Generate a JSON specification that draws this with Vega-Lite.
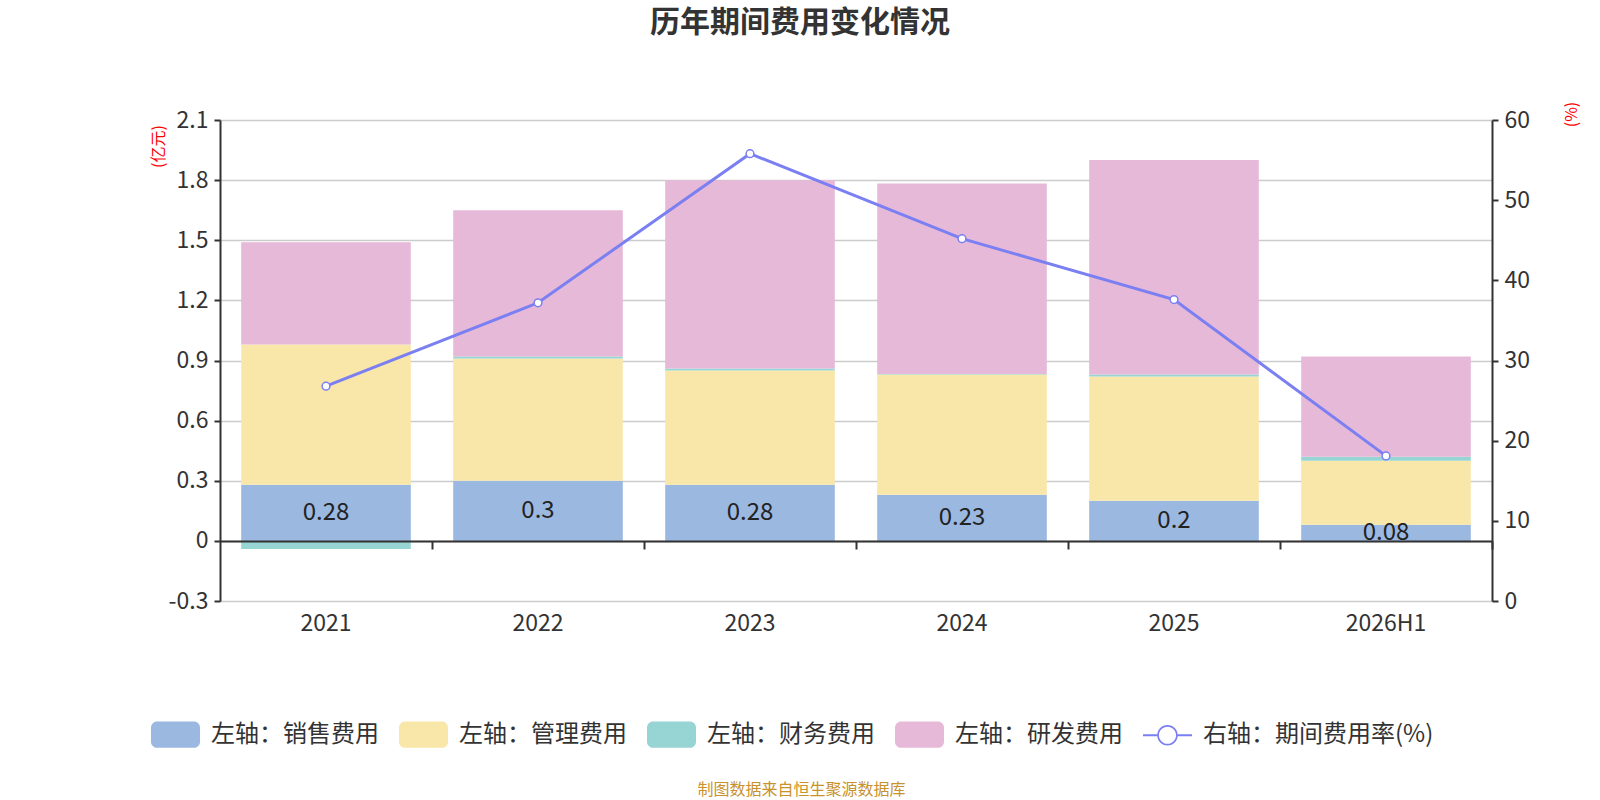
{
  "$schema": "https://vega.github.io/schema/vega-lite/v6.json",
  "autosize": {"type": "none"},
  "padding": {"left": 220, "top": 120, "right": 108, "bottom": 199},
  "width": 1272,
  "height": 481,
  "background": "white",
  "config": {
    "font": "Noto Sans CJK SC",
    "view": {"stroke": null}
  },
  "title": {
    "text": "历年期间费用变化情况",
    "fontSize": 30,
    "fontWeight": "bold",
    "color": "#333333",
    "anchor": "middle",
    "dx": -56,
    "offset": 63
  },
  "datasets": {
    "costs": [
      {"year": "2021", "type": "左轴：销售费用", "value": 0.28},
      {"year": "2021", "type": "左轴：管理费用", "value": 0.70},
      {"year": "2021", "type": "左轴：财务费用", "value": -0.04},
      {"year": "2021", "type": "左轴：研发费用", "value": 0.51},
      {"year": "2022", "type": "左轴：销售费用", "value": 0.3},
      {"year": "2022", "type": "左轴：管理费用", "value": 0.61},
      {"year": "2022", "type": "左轴：财务费用", "value": 0.01},
      {"year": "2022", "type": "左轴：研发费用", "value": 0.73},
      {"year": "2023", "type": "左轴：销售费用", "value": 0.28},
      {"year": "2023", "type": "左轴：管理费用", "value": 0.57},
      {"year": "2023", "type": "左轴：财务费用", "value": 0.01},
      {"year": "2023", "type": "左轴：研发费用", "value": 0.94},
      {"year": "2024", "type": "左轴：销售费用", "value": 0.23},
      {"year": "2024", "type": "左轴：管理费用", "value": 0.60},
      {"year": "2024", "type": "左轴：财务费用", "value": 0.003},
      {"year": "2024", "type": "左轴：研发费用", "value": 0.95},
      {"year": "2025", "type": "左轴：销售费用", "value": 0.2},
      {"year": "2025", "type": "左轴：管理费用", "value": 0.62},
      {"year": "2025", "type": "左轴：财务费用", "value": 0.01},
      {"year": "2025", "type": "左轴：研发费用", "value": 1.07},
      {"year": "2026H1", "type": "左轴：销售费用", "value": 0.08},
      {"year": "2026H1", "type": "左轴：管理费用", "value": 0.32},
      {"year": "2026H1", "type": "左轴：财务费用", "value": 0.02},
      {"year": "2026H1", "type": "左轴：研发费用", "value": 0.50}
    ],
    "rate": [
      {"year": "2021", "rate": 26.8},
      {"year": "2022", "rate": 37.2},
      {"year": "2023", "rate": 55.8},
      {"year": "2024", "rate": 45.2},
      {"year": "2025", "rate": 37.6},
      {"year": "2026H1", "rate": 18.1}
    ]
  },
  "layer": [
    {
      "data": {"name": "costs"},
      "encoding": {
        "x": {
          "field": "year",
          "type": "nominal",
          "sort": null,
          "scale": {"paddingInner": 0.2, "paddingOuter": 0.1},
          "axis": {
            "orient": "bottom",
            "domain": false,
            "ticks": false,
            "labelAngle": 0,
            "labelFontSize": 23,
            "labelColor": "#333333",
            "labelPadding": 11,
            "title": "制图数据来自恒生聚源数据库",
            "titleFontSize": 16,
            "titleFontWeight": "normal",
            "titleColor": "#c8922c",
            "titleX": 581,
            "titleY": 188,
            "titleAlign": "center",
            "titleBaseline": "middle"
          }
        }
      },
      "layer": [
        {
          "transform": [
            {"calculate": "indexof(['左轴：销售费用','左轴：管理费用','左轴：财务费用','左轴：研发费用'], datum.type)", "as": "ord"}
          ],
          "mark": {"type": "bar"},
          "encoding": {
            "y": {
              "field": "value",
              "type": "quantitative",
              "stack": "zero",
              "scale": {"domain": [-0.3, 2.1], "nice": false, "zero": false},
              "axis": {
                "values": [-0.3, 0, 0.3, 0.6, 0.9, 1.2, 1.5, 1.8, 2.1],
                "labelExpr": "'' + datum.value",
                "labelFontSize": 23,
                "labelColor": "#333333",
                "labelPadding": 6,
                "domainColor": "#333333",
                "domainWidth": 2,
                "tickColor": "#333333",
                "tickSize": 6,
                "tickWidth": 2,
                "gridColor": "#cccccc",
                "gridWidth": 1.5,
                "title": "(亿元)",
                "titleColor": "#ff0000",
                "titleFontSize": 16,
                "titleFontWeight": "normal",
                "titleAngle": 270,
                "titleX": -62,
                "titleY": 26,
                "titleAlign": "center",
                "titleBaseline": "middle"
              }
            },
            "order": {"field": "ord", "type": "quantitative"},
            "color": {
              "field": "type",
              "type": "nominal",
              "scale": {
                "domain": ["左轴：销售费用", "左轴：管理费用", "左轴：财务费用", "左轴：研发费用", "右轴：期间费用率(%)"],
                "range": ["#9bb8e1", "#f8e7a9", "#97d4d4", "#e7b9d8", "#7a7ff2"]
              },
              "legend": {
                "title": null,
                "orient": "none",
                "legendX": -69,
                "legendY": 590,
                "direction": "horizontal",
                "columns": 5,
                "labelFontSize": 24,
                "labelColor": "#333333",
                "labelOffset": 11,
                "labelLimit": 500,
                "columnPadding": 20,
                "symbolSize": 2401,
                "symbolStrokeWidth": 0,
                "encode": {
                  "symbols": {
                    "update": {
                      "shape": {"signal": "datum.value == '右轴：期间费用率(%)' ? 'M-1,-0.045L-0.42,-0.045L-0.42,0.045L-1,0.045Z M0.42,-0.045L1,-0.045L1,0.045L0.42,0.045Z M-0.42,0A0.42,0.42 0 1 1 0.42,0A0.42,0.42 0 1 1 -0.42,0Z M-0.35,0A0.35,0.35 0 1 0 0.35,0A0.35,0.35 0 1 0 -0.35,0Z' : 'M-0.75,-0.54L0.75,-0.54A0.25,0.25 0 0 1 1,-0.29L1,0.29A0.25,0.25 0 0 1 0.75,0.54L-0.75,0.54A0.25,0.25 0 0 1 -1,0.29L-1,-0.29A0.25,0.25 0 0 1 -0.75,-0.54Z'"},
                      "fill": {"signal": "scale('color', datum.value)"},
                      "stroke": {"value": "transparent"},
                      "strokeWidth": {"value": 0},
                      "opacity": {"value": 1},
                      "fillOpacity": {"value": 1}
                    }
                  }
                }
              }
            }
          }
        },
        {
          "transform": [
            {"filter": "datum.type == '左轴：销售费用'"},
            {"calculate": "datum.value / 2", "as": "mid"}
          ],
          "mark": {"type": "text", "fontSize": 24, "color": "#222222", "baseline": "middle"},
          "encoding": {
            "y": {"field": "mid", "type": "quantitative"},
            "text": {"field": "value", "type": "quantitative"}
          }
        }
      ]
    },
    {
      "data": {"name": "rate"},
      "mark": {
        "type": "line",
        "strokeWidth": 3,
        "point": {"filled": false, "fill": "white", "size": 60, "strokeWidth": 1.5}
      },
      "encoding": {
        "x": {
          "field": "year",
          "type": "nominal",
          "sort": null,
          "axis": {
            "orient": "bottom",
            "offset": -60,
            "labels": false,
            "domain": true,
            "domainColor": "#333333",
            "domainWidth": 2,
            "ticks": true,
            "tickOffset": 106,
            "tickColor": "#333333",
            "tickSize": 8,
            "tickWidth": 2,
            "grid": false,
            "title": null,
            "zindex": 1
          }
        },
        "y": {
          "field": "rate",
          "type": "quantitative",
          "scale": {"domain": [0, 60], "nice": false},
          "axis": {
            "orient": "right",
            "values": [0, 10, 20, 30, 40, 50, 60],
            "grid": false,
            "labelFontSize": 23,
            "labelColor": "#333333",
            "labelPadding": 6,
            "domainColor": "#333333",
            "domainWidth": 2,
            "tickColor": "#333333",
            "tickSize": 6,
            "tickWidth": 2,
            "title": "(%)",
            "titleColor": "#ff0000",
            "titleFontSize": 16,
            "titleFontWeight": "normal",
            "titleAngle": 270,
            "titleX": 79,
            "titleY": -6,
            "titleAlign": "center",
            "titleBaseline": "middle"
          }
        },
        "color": {
          "datum": "右轴：期间费用率(%)",
          "legend": {
            "title": null,
            "orient": "none",
            "legendX": -69,
            "legendY": 590,
            "direction": "horizontal",
            "columns": 5,
            "labelFontSize": 24,
            "labelColor": "#333333",
            "labelOffset": 11,
            "labelLimit": 500,
            "columnPadding": 20,
            "symbolSize": 2401,
            "symbolStrokeWidth": 0,
            "encode": {
              "symbols": {
                "update": {
                  "shape": {"signal": "datum.value == '右轴：期间费用率(%)' ? 'M-1,-0.045L-0.42,-0.045L-0.42,0.045L-1,0.045Z M0.42,-0.045L1,-0.045L1,0.045L0.42,0.045Z M-0.42,0A0.42,0.42 0 1 1 0.42,0A0.42,0.42 0 1 1 -0.42,0Z M-0.35,0A0.35,0.35 0 1 0 0.35,0A0.35,0.35 0 1 0 -0.35,0Z' : 'M-0.75,-0.54L0.75,-0.54A0.25,0.25 0 0 1 1,-0.29L1,0.29A0.25,0.25 0 0 1 0.75,0.54L-0.75,0.54A0.25,0.25 0 0 1 -1,0.29L-1,-0.29A0.25,0.25 0 0 1 -0.75,-0.54Z'"},
                  "fill": {"signal": "scale('color', datum.value)"},
                  "stroke": {"value": "transparent"},
                  "strokeWidth": {"value": 0},
                  "opacity": {"value": 1},
                  "fillOpacity": {"value": 1}
                }
              }
            }
          }
        }
      }
    }
  ],
  "resolve": {"scale": {"y": "independent"}, "axis": {"x": "independent"}}
}
